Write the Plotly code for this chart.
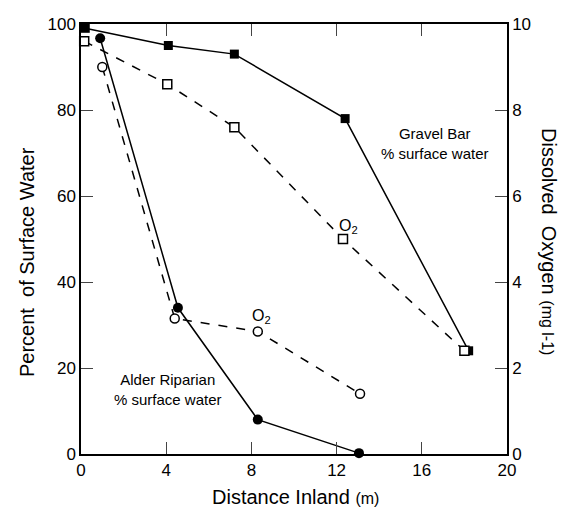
import plotly.graph_objects as go

# Data
gravel_x = [0.2, 4.1, 7.2, 12.4, 18.2]
gravel_pct = [99, 95, 93, 78, 24]
gravel_o2_x = [0.15, 4.05, 7.2, 12.3, 18.0]
gravel_o2 = [9.6, 8.6, 7.6, 5.0, 2.4]
alder_x = [0.9, 4.55, 8.3, 13.05]
alder_pct = [96.7, 34, 8, 0.2]
alder_o2_x = [1.0, 4.4, 8.3, 13.1]
alder_o2 = [9.0, 3.15, 2.85, 1.4]

x_ticks = [0, 4, 8, 12, 16, 20]
y_ticks = [0, 20, 40, 60, 80, 100]
y2_ticks = [0, 2, 4, 6, 8, 10]

FONT = "Liberation Sans, Arial, sans-serif"
W, H = 574, 517
ML, MR, MT, MB = 81, 67, 24, 63

fig = go.Figure()
fig.add_trace(go.Scatter(x=gravel_o2_x, y=gravel_o2, yaxis="y2", mode="lines+markers",
                         line=dict(color="black", width=1.5, dash="dash"),
                         marker=dict(symbol="square", size=9, color="white", line=dict(width=1.5, color="black")),
                         showlegend=False, cliponaxis=False))
fig.add_trace(go.Scatter(x=gravel_x, y=gravel_pct, mode="lines+markers",
                         line=dict(color="black", width=1.5),
                         marker=dict(symbol="square", size=9, color="black"),
                         showlegend=False, cliponaxis=False))
fig.add_trace(go.Scatter(x=alder_o2_x, y=alder_o2, yaxis="y2", mode="lines+markers",
                         line=dict(color="black", width=1.5, dash="dash"),
                         marker=dict(symbol="circle", size=9, color="white", line=dict(width=1.5, color="black")),
                         showlegend=False, cliponaxis=False))
fig.add_trace(go.Scatter(x=alder_x, y=alder_pct, mode="lines+markers",
                         line=dict(color="black", width=1.5),
                         marker=dict(symbol="circle", size=10, color="black"),
                         showlegend=False, cliponaxis=False))

fig.update_layout(
    width=W, height=H,
    margin=dict(l=ML, r=MR, t=MT, b=MB),
    paper_bgcolor="white", plot_bgcolor="white",
    font=dict(family=FONT, color="black", size=16),
    xaxis=dict(range=[0, 20], tickvals=x_ticks, ticks="inside", ticklen=12, tickwidth=1.2,
               showline=True, linewidth=1.5, linecolor="black", mirror="ticks",
               showgrid=False, zeroline=False, tickfont=dict(size=17)),
    yaxis=dict(range=[0, 100], tickvals=y_ticks, ticks="inside", ticklen=12, tickwidth=1.2,
               showline=True, linewidth=1.5, linecolor="black",
               showgrid=False, zeroline=False, tickfont=dict(size=17)),
    yaxis2=dict(range=[0, 10], tickvals=y2_ticks, ticks="inside", ticklen=12, tickwidth=1.2,
                overlaying="y", side="right",
                showline=True, linewidth=1.5, linecolor="black",
                showgrid=False, zeroline=False, tickfont=dict(size=17)),
)


def px2paper(px, py):
    return (px - ML) / (W - ML - MR), 1 - (py - MT) / (H - MT - MB)


annots = [
    ("Distance Inland <span style='font-size:16px'>(m)</span>", 295, 497, 0, 20),
    ("Percent&nbsp; of Surface Water", 27, 262, -90, 20),
    ("Dissolved&nbsp; Oxygen <span style='font-size:16px'>(mg l-1)</span>", 549, 241, 90, 20),
    ("Gravel Bar<br>% surface water", 435, 143, 0, 15),
    ("Alder Riparian<br>% surface water", 168, 389, 0, 15),
    ("O<sub>2</sub>", 348, 226, 0, 16),
    ("O<sub>2</sub>", 261, 316, 0, 16),
]
for text, px, py, ang, size in annots:
    x, y = px2paper(px, py)
    fig.add_annotation(text=text, x=x, y=y, xref="paper", yref="paper",
                       xanchor="center", yanchor="middle", textangle=ang,
                       showarrow=False, font=dict(size=size))

fig.write_html("out.html")
